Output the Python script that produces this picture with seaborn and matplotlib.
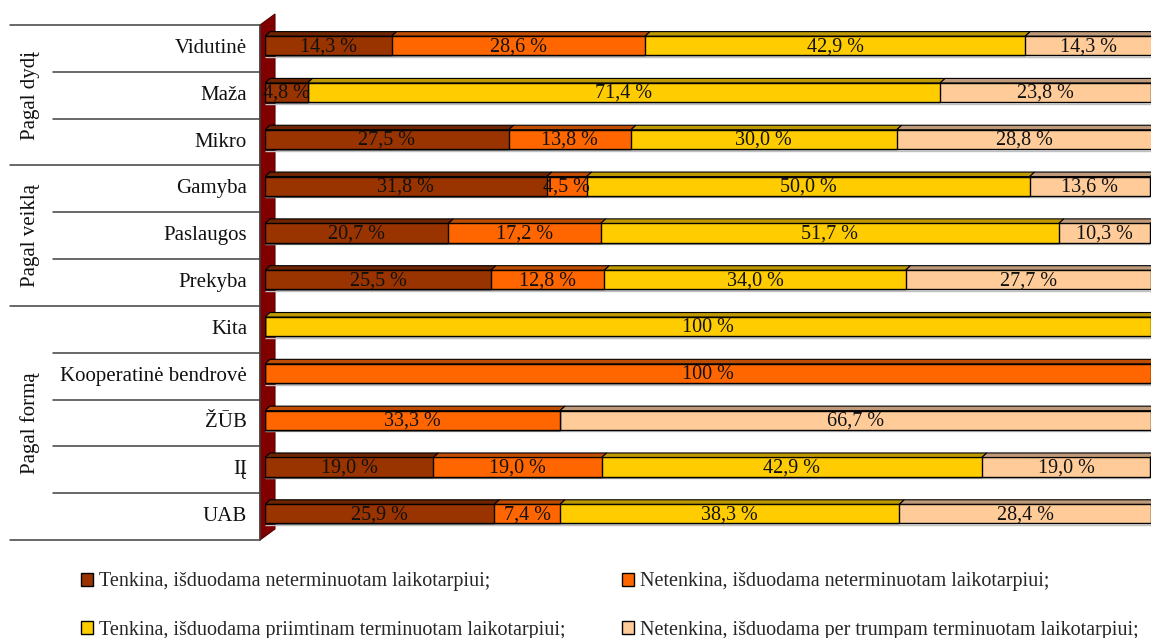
import numpy as np
import pandas as pd
import matplotlib
matplotlib.use("Agg")
import matplotlib.pyplot as plt
import seaborn as sns
from matplotlib.patches import Polygon, Patch

# ---------------- data ----------------
categories = ["Vidutinė", "Maža", "Mikro", "Gamyba", "Paslaugos", "Prekyba",
              "Kita", "Kooperatinė bendrovė", "ŽŪB", "IĮ", "UAB"]
groups = ["Pagal dydį", "Pagal veiklą", "Pagal formą"]
group_sizes = [3, 3, 5]
series_names = ["Tenkina, išduodama neterminuotam laikotarpiui;",
                "Netenkina, išduodama neterminuotam laikotarpiui;",
                "Tenkina, išduodama priimtinam terminuotam laikotarpiui;",
                "Netenkina, išduodama per trumpam terminuotam laikotarpiui;"]
s_tenk_neterm = [14.3, 4.8, 27.5, 31.8, 20.7, 25.5, 0, 0, 0, 19.0, 25.9]
s_netenk_neterm = [28.6, 0, 13.8, 4.5, 17.2, 12.8, 0, 100, 33.3, 19.0, 7.4]
s_tenk_term = [42.9, 71.4, 30.0, 50.0, 51.7, 34.0, 100, 0, 0, 42.9, 38.3]
s_netenk_trump = [14.3, 23.8, 28.8, 13.6, 10.3, 27.7, 0, 0, 66.7, 19.0, 28.4]

# ---------------- style ----------------
face_colors = ["#993300", "#FF6600", "#FFCC00", "#FFCC99"]
top_colors = ["#6E2400", "#C04C00", "#BF9900", "#BF9A7A"]
wall_color = "#800000"

sns.set_theme(style="white")
plt.rcParams["font.family"] = ["Liberation Serif", "DejaVu Serif"]

W, H = 1151, 638
fig = plt.figure(figsize=(W / 100, H / 100), dpi=100)

ax_left, ax_right = 265, 1151
row_top, row_bot = 25, 540
ax = fig.add_axes([ax_left / W, 1 - row_bot / H, (ax_right - ax_left) / W, (row_bot - row_top) / H])

series = [s_tenk_neterm, s_netenk_neterm, s_tenk_term, s_netenk_trump]
df = pd.DataFrame({"category": categories})
for k, s in enumerate(series):
    df[f"v{k}"] = s
cum = np.cumsum(np.array(series, dtype=float), axis=0)
for k in range(4):
    df[f"c{k}"] = cum[k]

bar_h = 0.41
shift = 0.058  # row centre sits slightly below bar-face centre

for k in reversed(range(4)):
    sns.barplot(data=df, x=f"c{k}", y="category", order=categories, orient="h",
                color=face_colors[k], saturation=1, edgecolor="black", linewidth=1,
                width=bar_h, errorbar=None, ax=ax, zorder=3)

n = len(categories)
ax.set_xlim(0, 100)
ax.set_ylim(n - 0.5 + shift, -0.5 + shift)
ax.axis("off")

# 3D top faces + labels
dx, dy = 0.56, 0.096
for i in range(n):
    left = 0.0
    for k in range(4):
        v = series[k][i]
        if v > 0:
            right = left + v
            top = i - bar_h / 2
            poly = Polygon([(left, top), (left + dx, top - dy), (right + dx, top - dy), (right, top)],
                           closed=True, facecolor=top_colors[k], edgecolor="black", linewidth=0.8, zorder=3)
            ax.add_patch(poly)
            txt = "100 %" if v == 100 else f"{v:.1f}".replace(".", ",") + " %"
            ax.text(left + v / 2, i + 0.02, txt, ha="center", va="center", fontsize=14.5,
                    color="#111111", zorder=5)
            left = right
    ax.hlines(i + bar_h / 2 + 0.035, 0, min(cum[3][i], 100), color="#c0c0c0", lw=1, zorder=2)

# wall (decoration)
ax_w = ax_right - ax_left
ax_hh = row_bot - row_top
wall = Polygon([(-5 / ax_w, 0), (-5 / ax_w, 1), (10 / ax_w, 1 + 11 / ax_hh), (10 / ax_w, 11 / ax_hh)],
               closed=True, transform=ax.transAxes, facecolor=wall_color, edgecolor="#5a0000",
               linewidth=0.8, clip_on=False, zorder=1)
ax.add_patch(wall)

# ---------------- label panel ----------------
lax = fig.add_axes([10 / W, 1 - row_bot / H, 250 / W, (row_bot - row_top) / H])
lax.set_xlim(0, 1)
lax.set_ylim(n - 0.5 + shift, -0.5 + shift)
lax.axis("off")

group_edges = np.concatenate([[0], np.cumsum(group_sizes)])
inner_x = 43 / 250
line_col = "#404040"
for j in range(n + 1):
    yb = j - 0.5 + shift
    x0 = 0 if j in group_edges else inner_x
    lax.plot([x0, 1], [yb, yb], color=line_col, lw=1.1, clip_on=False)
lax.plot([1, 1], [-0.5 + shift, n - 0.5 + shift], color=line_col, lw=1.1, clip_on=False)

for i, c in enumerate(categories):
    lax.text(237 / 250, i + shift, c, ha="right", va="center", fontsize=15, color="#111111")

for g, name in enumerate(groups):
    yc = (group_edges[g] + group_edges[g + 1] - 1) / 2 + shift
    lax.text(20 / 250, yc, name, ha="center", va="center", rotation=90, fontsize=15, color="#111111")

# ---------------- legend ----------------
handles = [Patch(facecolor=face_colors[k], edgecolor="black", linewidth=1, label=series_names[k]) for k in range(4)]
leg_kw = dict(frameon=False, fontsize=14.5, handlelength=0.6, handleheight=0.6, handletextpad=0.3,
              labelspacing=1.45, borderpad=0, borderaxespad=0, loc="center left")
fig.legend(handles=[handles[0], handles[2]], bbox_to_anchor=(81 / W, 1 - 606 / H), **leg_kw)
fig.legend(handles=[handles[1], handles[3]], bbox_to_anchor=(622 / W, 1 - 606 / H), **leg_kw)

fig.savefig("out.png", dpi=100)
